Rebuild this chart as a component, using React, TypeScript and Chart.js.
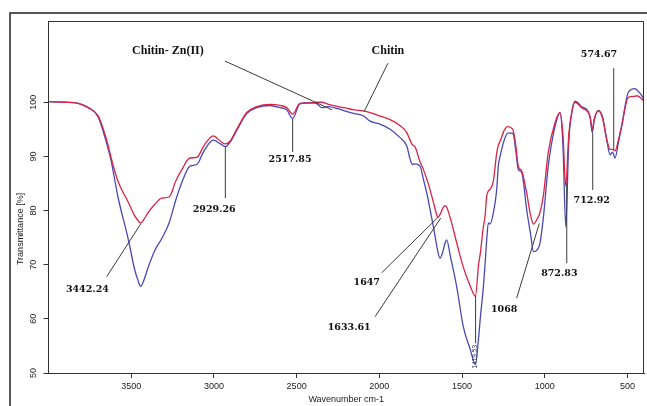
import React, { useEffect, useRef } from "react";
import { Chart, registerables } from "chart.js";

Chart.register(...registerables);

// Wavenumber grid (cm-1), descending
const wavenumbers = [
  4000, 3900, 3820, 3760, 3700, 3650, 3620, 3580, 3517, 3480, 3460, 3443, 3425, 3400, 3356, 3316, 3271, 3230, 3195, 3145, 3104,
  3060, 3004, 2960, 2931, 2903, 2862, 2802, 2741, 2661, 2600, 2560, 2524, 2480, 2400, 2380, 2349, 2308, 2250, 2200,
  2150, 2097, 2056, 2000, 1935, 1880, 1834, 1814, 1800, 1785, 1754, 1734, 1713, 1694, 1673, 1653, 1647, 1633, 1615,
  1603, 1593, 1570, 1532, 1492, 1452, 1419, 1400, 1390, 1371, 1361, 1351, 1341, 1331, 1311, 1290, 1281, 1270, 1245,
  1224, 1200, 1190, 1175, 1160, 1139, 1109, 1085, 1068, 1045, 1030, 1009, 979, 938, 908, 890, 873, 855, 837, 817,
  777, 737, 725, 713, 700, 676, 650, 625, 605, 590, 575, 555, 535, 495, 454, 444, 420, 400,
];

// Chitin (red) transmittance %
const chitin = [
  100.1, 100.0, 99.8, 99.0, 97.5, 93.2, 89.6, 85.4, 81.5, 79.1, 78.2, 77.7, 78.3, 79.5, 81.2, 82.3, 82.5, 85.5, 87.5, 89.7, 89.8,
  92.0, 93.8, 92.8, 92.3, 92.8, 95.0, 98.1, 99.2, 99.6, 99.4, 99.0, 97.8, 99.8, 99.9, 100.0, 100.0, 99.6, 99.2, 98.9,
  98.6, 98.4, 98.1, 97.5, 96.8, 95.8, 94.4, 93.0, 92.1, 91.8, 89.0, 87.6, 85.8, 83.9, 81.5, 79.2, 78.7, 79.3, 80.5,
  80.9, 80.6, 78.5, 74.0, 69.5, 66.2, 64.2, 70.0, 72.0, 77.0, 78.9, 82.6, 83.6, 83.9, 85.4, 90.7, 92.0, 92.8, 94.8,
  95.5, 95.2, 94.7, 92.0, 88.2, 87.3, 83.2, 79.0, 77.5, 78.5, 79.5, 82.6, 90.7, 96.2, 98.1, 94.0, 84.5, 94.0, 98.1, 100.0,
  99.0, 98.1, 97.2, 95.0, 97.0, 98.4, 97.0, 93.1, 91.3, 91.3, 91.0, 93.0, 95.6, 100.9, 101.1, 101.2, 100.8, 100.2,
];

// Chitin- Zn(II) (blue) transmittance %
const chitinZn = [
  100.1, 100.0, 99.8, 99.0, 97.3, 92.6, 89.0, 82.5, 74.6, 69.2, 67.2, 66.0, 67.0, 69.3, 72.7, 74.8, 77.7, 82.0, 85.1, 88.2, 88.5,
  91.0, 93.0, 92.3, 91.8, 92.6, 94.8, 97.9, 99.0, 99.4, 99.0, 98.6, 97.0, 99.7, 99.9, 99.8, 99.0, 99.2, 98.8, 98.3,
  97.9, 97.5, 96.5, 96.0, 95.0, 93.6, 91.9, 89.5, 88.5, 88.6, 88.2, 85.8, 83.2, 80.3, 77.0, 73.5, 72.5, 71.2, 72.5,
  74.0, 74.6, 71.5, 65.9, 58.5, 54.5, 51.6, 56.5, 60.0, 65.9, 70.0, 74.5, 77.7, 77.5, 79.5, 84.0, 88.2, 90.0, 93.0,
  94.3, 94.3, 94.1, 91.0, 87.6, 87.0, 80.1, 75.5, 72.4, 72.8, 73.8, 78.5, 88.2, 95.5, 98.0, 92.0, 77.0, 92.5, 98.0, 100.2,
  99.2, 98.3, 97.0, 94.4, 96.8, 98.5, 97.2, 93.0, 90.3, 90.8, 89.7, 92.5, 95.6, 101.8, 102.5, 102.3, 101.5, 100.6,
];

const seriesNames = ["Chitin", "Chitin- Zn(II)"];
const xTicks = [3500, 3000, 2500, 2000, 1500, 1000, 500];
const yTicks = [50, 60, 70, 80, 90, 100];
const xTitle = "Wavenumber cm-1";
const yTitle = "Transmittance [%]";

// Peak annotations: label centre and leader line, in data units (wavenumber, %T)
const peakLabels = [
  { text: "Chitin- Zn(II)", kind: "name", at: [3278, 109.4], line: [[2933, 107.6], [2286, 98.6]] },
  { text: "Chitin", kind: "name", at: [1948, 109.4], line: [[1948, 107.2], [2093, 98.2]] },
  { text: "574.67", kind: "num", at: [672, 108.9], line: [[583, 106.3], [583, 91.2]] },
  { text: "2517.85", kind: "num", at: [2540, 89.5], line: [[2524, 96.9], [2524, 90.8]] },
  { text: "2929.26", kind: "num", at: [2998, 80.1], line: [[2931, 91.7], [2931, 82.3]] },
  { text: "3442.24", kind: "num", at: [3765, 65.5], line: [[3648, 67.8], [3443, 77.5]] },
  { text: "1647", kind: "num", at: [2076, 66.7], line: [[1986, 68.5], [1650, 78.6]] },
  { text: "1633.61", kind: "num", at: [2182, 58.4], line: [[2026, 60.4], [1629, 78.6]] },
  { text: "1068", kind: "num", at: [1245, 61.8], line: [[1170, 63.8], [1033, 77.6]] },
  { text: "872.83", kind: "num", at: [912, 68.3], line: [[867, 85.1], [867, 70.3]] },
  { text: "712.92", kind: "num", at: [716, 81.8], line: [[710, 94.4], [710, 83.8]] },
  { text: "1419.53", kind: "small", at: [1418, 53.0], line: [[1418, 64.3], [1418, 55.5]] },
];

const overlayPlugin = {
  id: "overlay",
  afterDraw(chart: any) {
    const { ctx, chartArea: ca } = chart;
    const xs = chart.scales.x;
    const ys = chart.scales.y;
    ctx.save();

    // plot box top & right
    ctx.strokeStyle = "#333";
    ctx.lineWidth = 1;
    ctx.beginPath();
    ctx.moveTo(Math.round(ca.left), Math.round(ca.top) + 0.5);
    ctx.lineTo(Math.round(ca.right) - 0.5, Math.round(ca.top) + 0.5);
    ctx.lineTo(Math.round(ca.right) - 0.5, Math.round(ca.bottom));
    ctx.stroke();

    // outer frame
    ctx.strokeStyle = "#222";
    ctx.lineWidth = 1.5;
    ctx.beginPath();
    ctx.moveTo(10, 406);
    ctx.lineTo(10, 13);
    ctx.lineTo(647, 13);
    ctx.stroke();

    // y tick labels (rotated)
    ctx.fillStyle = "#222";
    ctx.font = "9px 'Liberation Sans', Arial, sans-serif";
    ctx.textAlign = "center";
    ctx.textBaseline = "middle";
    for (const v of yTicks) {
      const py = ys.getPixelForValue(v);
      ctx.save();
      ctx.translate(ca.left - 15, py);
      ctx.rotate(-Math.PI / 2);
      ctx.fillText(String(v), 0, 0);
      ctx.restore();
    }

    // y title
    ctx.save();
    ctx.translate(ca.left - 28, ys.getPixelForValue(76.6));
    ctx.rotate(-Math.PI / 2);
    ctx.fillText(yTitle, 0, 0);
    ctx.restore();

    // x title
    ctx.fillText(xTitle, (ca.left + ca.right) / 2, ca.bottom + 26.3);

    // annotations
    for (const a of peakLabels) {
      const [p0, p1] = a.line;
      ctx.strokeStyle = "#3a3a3a";
      ctx.lineWidth = 1;
      ctx.beginPath();
      ctx.moveTo(xs.getPixelForValue(p0[0]), ys.getPixelForValue(p0[1]));
      ctx.lineTo(xs.getPixelForValue(p1[0]), ys.getPixelForValue(p1[1]));
      ctx.stroke();
      const lx = xs.getPixelForValue(a.at[0]);
      const ly = ys.getPixelForValue(a.at[1]);
      ctx.fillStyle = "#111";
      if (a.kind === "small") {
        ctx.save();
        ctx.translate(lx, ly);
        ctx.rotate(-Math.PI / 2);
        ctx.font = "6.5px 'Liberation Sans', Arial, sans-serif";
        ctx.fillStyle = "#2a2a60";
        ctx.fillText(a.text, 0, 0);
        ctx.restore();
      } else {
        ctx.font =
          a.kind === "name"
            ? "bold 12px 'Liberation Serif', 'Times New Roman', serif"
            : "bold 9.5px 'DejaVu Serif', serif";
        ctx.fillText(a.text, lx, ly);
      }
    }
    ctx.restore();
  },
};

export default function App() {
  const ref = useRef<HTMLCanvasElement | null>(null);

  useEffect(() => {
    if (!ref.current) return;
    const chart = new Chart(ref.current, {
      type: "line",
      data: {
        datasets: [
          {
            label: seriesNames[0],
            data: wavenumbers.map((w, i) => ({ x: w, y: chitin[i] })),
            borderColor: "rgb(218,35,70)",
            borderWidth: 1.3,
            pointRadius: 0,
            fill: false,
            cubicInterpolationMode: "monotone",
          },
          {
            label: seriesNames[1],
            data: wavenumbers.map((w, i) => ({ x: w, y: chitinZn[i] })),
            borderColor: "rgb(72,72,184)",
            borderWidth: 1.3,
            pointRadius: 0,
            fill: false,
            cubicInterpolationMode: "monotone",
          },
        ],
      },
      options: {
        responsive: false,
        maintainAspectRatio: false,
        devicePixelRatio: 1,
        animation: false,
        layout: { padding: { top: 21, right: 3, left: 0, bottom: 0 } },
        plugins: { legend: { display: false }, tooltip: { enabled: false } },
        scales: {
          x: {
            type: "linear",
            reverse: true,
            min: 400,
            max: 4000,
            afterBuildTicks: (s: any) => {
              s.ticks = xTicks.map((v) => ({ value: v }));
            },
            afterFit: (s: any) => {
              s.height = 33;
            },
            ticks: {
              color: "#222",
              font: { family: "'Liberation Sans', Arial, sans-serif", size: 9 },
              padding: 3,
              maxRotation: 0,
              autoSkip: false,
              callback: (v: any) => String(v),
            },
            grid: { drawOnChartArea: false, tickLength: 5, color: "#333" },
            border: { color: "#333", width: 1 },
          },
          y: {
            type: "linear",
            min: 50,
            max: 115,
            afterBuildTicks: (s: any) => {
              s.ticks = yTicks.map((v) => ({ value: v }));
            },
            afterFit: (s: any) => {
              s.width = 48.5;
            },
            ticks: { display: false },
            grid: { drawOnChartArea: false, tickLength: 5, color: "#333" },
            border: { color: "#333", width: 1 },
          },
        },
      },
      plugins: [overlayPlugin],
    } as any);
    return () => chart.destroy();
  }, []);

  return (
    <canvas
      ref={ref}
      width={647}
      height={406}
      style={{ position: "absolute", left: 0, top: 0, background: "#fff" }}
    />
  );
}
